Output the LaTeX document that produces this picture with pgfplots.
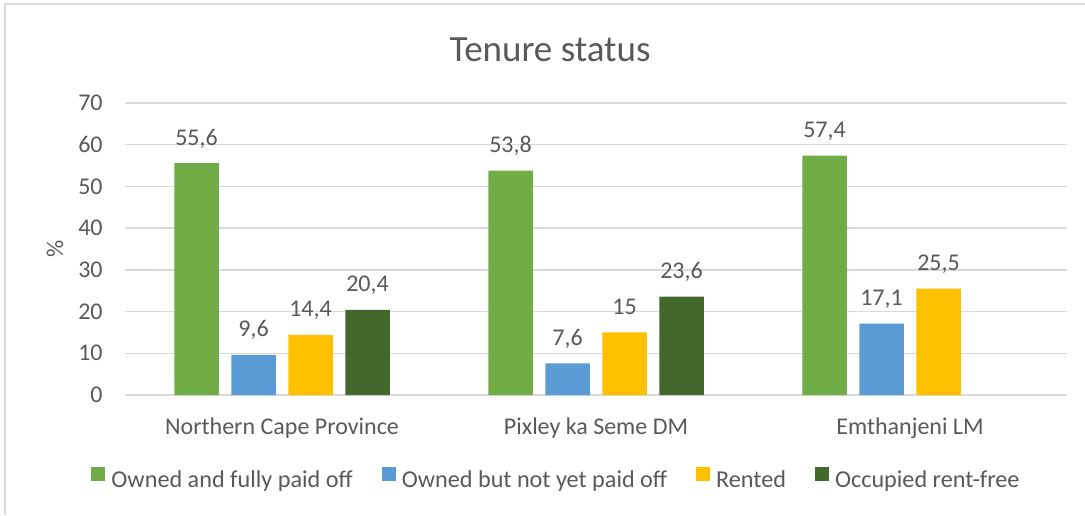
\documentclass[border=0pt]{standalone}
\usepackage{pgfplots}
\pgfplotsset{compat=1.18}
\usepackage{fontspec}
\setmainfont{Carlito}
\definecolor{txt}{HTML}{595959}
\definecolor{gridc}{HTML}{D9D9D9}
\definecolor{cA}{HTML}{70AD47}
\definecolor{cB}{HTML}{5B9BD5}
\definecolor{cC}{HTML}{FFC000}
\definecolor{cD}{HTML}{43682B}
\begin{document}
\begin{tikzpicture}
\useasboundingbox (0,0) rectangle (542.5pt,257.5pt);
\draw[gridc, line width=0.75pt] (2.5pt,0) -- (2.5pt,255.5pt) -- (542.5pt,255.5pt);
\node[anchor=base, text=txt, font=\fontsize{18.5}{22}\selectfont] at (275pt,226.5pt) {Tenure status};
\begin{axis}[
  at={(62.5pt,60pt)}, anchor=south west,
  scale only axis, width=471pt, height=146pt,
  ybar=6.25pt, bar width=22.25pt,
  xmin=-0.5, xmax=2.5, ymin=0, ymax=70,
  xtick={0,1,2}, xticklabels={Northern Cape Province, Pixley ka Seme DM, Emthanjeni LM},
  ytick={0,10,...,70},
  major tick length=0pt,
  axis line style={draw=none},
  ymajorgrids, major grid style={draw=gridc, line width=0.75pt},
  tick label style={text=txt, font=\fontsize{12}{14}\selectfont},
  yticklabel style={inner sep=0pt, xshift=-11pt},
  xticklabel style={anchor=base, inner sep=0pt, yshift=-19.5pt},
  ylabel={\%},
  every axis y label/.style={at={(axis description cs:-0.0743,0.5)}, rotate=90, anchor=center, text=txt, font=\fontsize{12}{14}\selectfont},
  /pgf/number format/assume math mode=true,
  /pgf/number format/use comma,
  nodes near coords,
  every node near coord/.append style={anchor=base, inner sep=0pt, yshift=9pt, text=txt, font=\fontsize{12}{14}\selectfont},
  legend columns=4,
  legend style={at={(0.4586,-0.291)}, anchor=center, draw=none, fill=none, text=txt, font=\fontsize{12.1}{14}\selectfont, nodes={inner sep=1.5pt}, /tikz/every odd column/.append style={column sep=1.5pt}, /tikz/every even column/.append style={column sep=13pt}},
  legend image code/.code={\fill[#1] (0pt,0pt) rectangle (7pt,7pt);},
]
\addplot[fill=cA, draw=none] coordinates {(0,55.6) (1,53.8) (2,57.4)};
\addplot[fill=cB, draw=none] coordinates {(0,9.6) (1,7.6) (2,17.1)};
\addplot[fill=cC, draw=none] coordinates {(0,14.4) (1,15) (2,25.5)};
\addplot[fill=cD, draw=none] coordinates {(0,20.4) (1,23.6)};
\legend{Owned and fully paid off, Owned but not yet paid off, Rented, Occupied rent-free}
\end{axis}
\end{tikzpicture}
\end{document}
